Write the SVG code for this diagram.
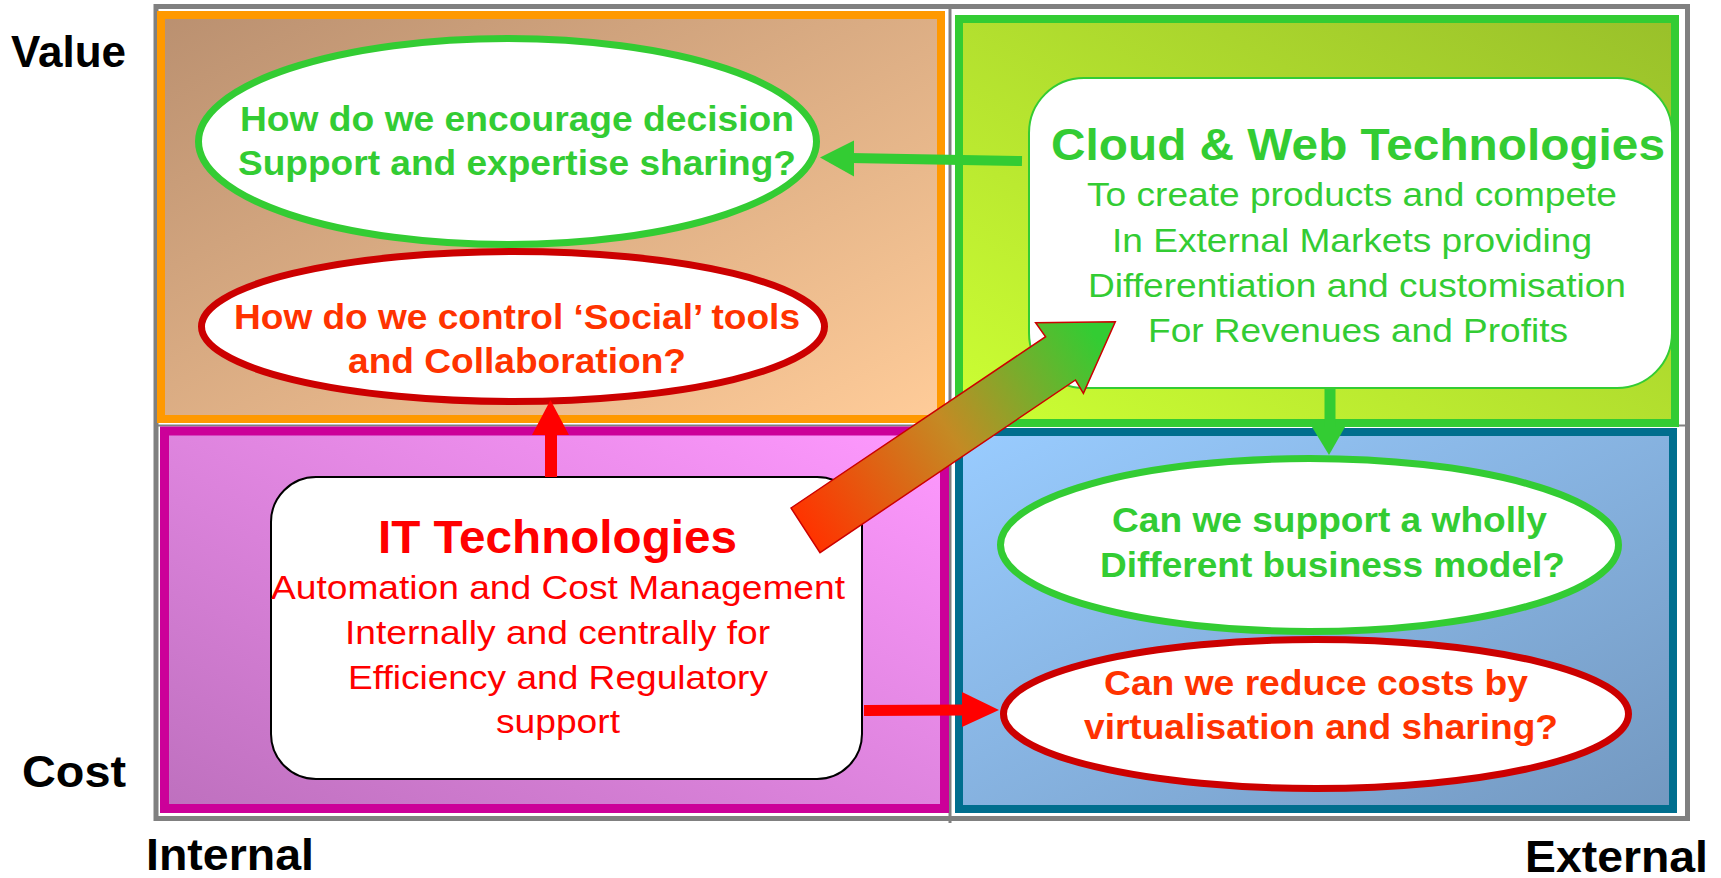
<svg xmlns="http://www.w3.org/2000/svg" width="1721" height="878" viewBox="0 0 1721 878">
<style>
.lbl{font-family:'Liberation Sans',Arial,sans-serif;font-weight:bold;font-size:44px;fill:#000}
.q{font-family:'Liberation Sans Narrow','Liberation Sans',Arial,sans-serif;font-weight:bold;font-size:35px}
.body{font-family:'Liberation Sans Narrow','Liberation Sans',Arial,sans-serif;font-size:33px}
.title{font-family:'Liberation Sans',Arial,sans-serif;font-weight:bold;font-size:45px}
.gt{fill:#33CC33}
.rt{fill:#FF3300}
.it{fill:#FF0000}
.ell{fill:#FFFFFF;stroke-width:7}
.eg{stroke:#33CC33}
.er{stroke:#CC0000}
.quad{stroke-width:8}
.box{fill:#FFFFFF;stroke-width:2}
</style>
<defs>
<linearGradient id="gOrange" x1="0" y1="0" x2="1" y2="1"><stop offset="0" stop-color="#BA9070"/><stop offset="1" stop-color="#FFCC99"/></linearGradient>
<linearGradient id="gLime" x1="0" y1="1" x2="1" y2="0"><stop offset="0" stop-color="#CCFF33"/><stop offset="1" stop-color="#99C02A"/></linearGradient>
<linearGradient id="gPink" x1="1" y1="0" x2="0" y2="1"><stop offset="0" stop-color="#FF99FF"/><stop offset="1" stop-color="#BE70BE"/></linearGradient>
<linearGradient id="gBlue" x1="0" y1="0" x2="1" y2="1"><stop offset="0" stop-color="#99CCFF"/><stop offset="1" stop-color="#7398C0"/></linearGradient>
<linearGradient id="gArrow" gradientUnits="userSpaceOnUse" x1="805" y1="530" x2="1095" y2="335"><stop offset="0" stop-color="#FF3300"/><stop offset="0.5" stop-color="#C48A24"/><stop offset="1" stop-color="#33CC33"/></linearGradient>
</defs>
<rect width="1721" height="878" fill="#FFFFFF"/>
<g id="frame">
<rect x="156" y="6.5" width="1531.5" height="812" fill="none" stroke="#808080" stroke-width="5"/>
<line x1="950" y1="5" x2="950" y2="823" stroke="#808080" stroke-width="3"/>
<line x1="154" y1="425.5" x2="1690" y2="425.5" stroke="#808080" stroke-width="2"/>
</g>
<g id="quadrants">
<rect id="q-internal-value" class="quad" x="161" y="15" width="780" height="404" fill="url(#gOrange)" stroke="#FF9900"/>
<rect id="q-external-value" class="quad" x="959" y="19" width="716" height="404" fill="url(#gLime)" stroke="#33CC33"/>
<rect id="q-internal-cost" x="164.5" y="431" width="780" height="377.5" fill="url(#gPink)" stroke="#CC0099" stroke-width="9"/>
<rect id="q-external-cost" class="quad" x="959" y="432" width="714" height="377" fill="url(#gBlue)" stroke="#006E8E"/>
</g>
<g id="axis-labels">
<text class="lbl" x="11" y="67" textLength="115" lengthAdjust="spacingAndGlyphs">Value</text>
<text class="lbl" x="22" y="787" textLength="104" lengthAdjust="spacingAndGlyphs">Cost</text>
<text class="lbl" x="146" y="870" textLength="168" lengthAdjust="spacingAndGlyphs">Internal</text>
<text class="lbl" x="1525" y="872" textLength="183" lengthAdjust="spacingAndGlyphs">External</text>
</g>
<g id="node-decision-support">
<ellipse class="ell eg" cx="507.5" cy="141.5" rx="309" ry="103"/>
<text class="q gt" x="240" y="131" textLength="554" lengthAdjust="spacingAndGlyphs">How do we encourage decision</text>
<text class="q gt" x="238" y="175" textLength="558" lengthAdjust="spacingAndGlyphs">Support and expertise sharing?</text>
</g>
<g id="node-social-tools">
<ellipse class="ell er" cx="513" cy="326.5" rx="311.5" ry="75"/>
<text class="q rt" x="234" y="329" textLength="566" lengthAdjust="spacingAndGlyphs">How do we control ‘Social’ tools</text>
<text class="q rt" x="348" y="373" textLength="338" lengthAdjust="spacingAndGlyphs">and Collaboration?</text>
</g>
<g id="node-cloud-web">
<rect class="box" x="1029" y="78" width="643" height="310" rx="55" ry="55" stroke="#33CC33"/>
<text class="title gt" x="1051" y="160" textLength="614" lengthAdjust="spacingAndGlyphs">Cloud &amp; Web Technologies</text>
<text class="body gt" x="1087" y="206" textLength="530" lengthAdjust="spacingAndGlyphs">To create products and compete</text>
<text class="body gt" x="1112" y="252" textLength="480" lengthAdjust="spacingAndGlyphs">In External Markets providing</text>
<text class="body gt" x="1088" y="297" textLength="538" lengthAdjust="spacingAndGlyphs">Differentiation and customisation</text>
<text class="body gt" x="1148" y="342" textLength="420" lengthAdjust="spacingAndGlyphs">For Revenues and Profits</text>
</g>
<g id="node-it">
<rect class="box" x="271" y="477" width="591" height="302" rx="45" ry="45" stroke="#000000"/>
<text class="title it" x="378" y="553" textLength="359" lengthAdjust="spacingAndGlyphs" style="font-size:46px">IT Technologies</text>
<text class="body it" x="271" y="599" textLength="574" lengthAdjust="spacingAndGlyphs">Automation and Cost Management</text>
<text class="body it" x="345" y="644" textLength="425" lengthAdjust="spacingAndGlyphs">Internally and centrally for</text>
<text class="body it" x="348" y="689" textLength="420" lengthAdjust="spacingAndGlyphs">Efficiency and Regulatory</text>
<text class="body it" x="496" y="733" textLength="124" lengthAdjust="spacingAndGlyphs">support</text>
</g>
<g id="node-business-model">
<ellipse class="ell eg" cx="1309.5" cy="545" rx="309" ry="86.5"/>
<text class="q gt" x="1112" y="532" textLength="435" lengthAdjust="spacingAndGlyphs">Can we support a wholly</text>
<text class="q gt" x="1100" y="577" textLength="465" lengthAdjust="spacingAndGlyphs">Different business model?</text>
</g>
<g id="node-virtualisation">
<ellipse class="ell er" cx="1316" cy="714" rx="312.5" ry="74.5"/>
<text class="q rt" x="1104" y="695" textLength="424" lengthAdjust="spacingAndGlyphs">Can we reduce costs by</text>
<text class="q rt" x="1084" y="739" textLength="474" lengthAdjust="spacingAndGlyphs">virtualisation and sharing?</text>
</g>
<g id="connectors">
<line x1="1022" y1="161" x2="850" y2="158" stroke="#33CC33" stroke-width="10"/>
<polygon points="820,157.5 854,140.5 854,176.5" fill="#33CC33"/>
<line x1="1330" y1="387" x2="1330" y2="430" stroke="#33CC33" stroke-width="11"/>
<polygon points="1329,455 1312,427 1345,427" fill="#33CC33"/>
<line x1="551" y1="477" x2="551" y2="432" stroke="#FF0000" stroke-width="12"/>
<polygon points="550.5,400 532,435 569,435" fill="#FF0000"/>
<line x1="864" y1="710.5" x2="966" y2="710" stroke="#FF0000" stroke-width="11"/>
<polygon points="999,710 962,692 962,727" fill="#FF0000"/>
<polygon points="791,508 1045.6,336.7 1035.6,322.7 1115.3,321.7 1083.4,393.3 1075.5,380 820,552.7" fill="url(#gArrow)" stroke="#CC0000" stroke-width="1.5" stroke-linejoin="miter"/>
</g>
</svg>
